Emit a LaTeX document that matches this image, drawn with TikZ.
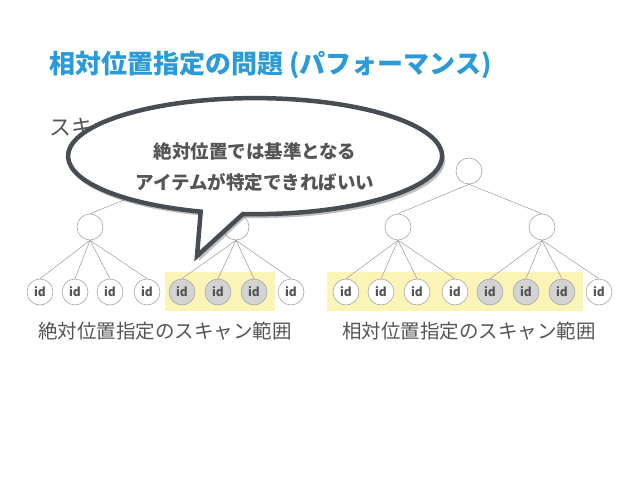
\documentclass[tikz,border=0pt]{standalone}
\usepackage{fontspec}
\setmainfont{Noto Sans CJK JP}
\newfontfamily\cjk{Noto Sans CJK JP}
\definecolor{titleblue}{HTML}{2A9BD8}
\definecolor{txtgray}{HTML}{555555}
\definecolor{hl}{HTML}{FAF5B6}
\definecolor{selgray}{HTML}{D3D3D3}
\definecolor{bubble}{HTML}{484D53}
\begin{document}
\begin{tikzpicture}[x=1pt,y=1pt,
  tn/.style={circle,draw=gray!70,line width=0.6pt,minimum size=26pt,inner sep=0pt,fill=white},
  leaf/.style={circle,draw=gray!70,line width=0.6pt,minimum size=26pt,inner sep=0pt,fill=white,font=\cjk\bfseries\fontsize{12}{12}\selectfont,text=txtgray},
  sel/.style={leaf,fill=selgray},
  edge/.style={draw=gray!70,line width=0.6pt},
  captxt/.style={font=\cjk\fontsize{19.5}{21}\selectfont,text=txtgray}]
\path[use as bounding box] (0,0) rectangle (638,-479);
\fill[white] (0,0) rectangle (638,-479);
\node[anchor=west,font=\cjk\bfseries\fontsize{26}{28}\selectfont,text=titleblue] (title) at (46,-65) {相対位置指定の問題 (パフォーマンス)};
\node[anchor=west,font=\cjk\fontsize{22}{24}\selectfont,text=txtgray] (sub) at (46,-127) {スキ};
% highlight boxes
\fill[hl] (165,-272) rectangle (275,-311);
\fill[hl] (327,-272) rectangle (583,-311);
% left tree
\node[tn] (lr) at (163,-171) {};
\node[tn] (lm1) at (90,-227) {};
\node[tn] (lm2) at (236,-227) {};
\foreach \i/\x/\s in {1/40/leaf,2/75/leaf,3/110/leaf,4/147/leaf,5/182/sel,6/218/sel,7/254/sel,8/291/leaf}
  \node[\s] (l\i) at (\x,-292) {id};
% right tree
\node[tn] (rr) at (469,-171) {};
\node[tn] (rm1) at (398,-227) {};
\node[tn] (rm2) at (542,-227) {};
\foreach \i/\x/\s in {1/346/leaf,2/381/leaf,3/417/leaf,4/455/leaf,5/490/sel,6/526/sel,7/562/sel,8/599/leaf}
  \node[\s] (r\i) at (\x,-292) {id};
\foreach \a/\b in {lr/lm1,lr/lm2,lm1/l1,lm1/l2,lm1/l3,lm1/l4,lm2/l5,lm2/l6,lm2/l7,lm2/l8,
  rr/rm1,rr/rm2,rm1/r1,rm1/r2,rm1/r3,rm1/r4,rm2/r5,rm2/r6,rm2/r7,rm2/r8}
  \draw[edge] (\a.south) -- (\b.north);
% captions
\node[captxt] (c1) at (165,-331) {絶対位置指定のスキャン範囲};
\node[captxt] (c2) at (469,-331) {相対位置指定のスキャン範囲};
% bubble shadow
\fill[black,opacity=0.25] (245,-218) arc[start angle=266.3,end angle=613.1,x radius=188pt,y radius=58pt] -- (199,-261) -- cycle;
\draw[fill=white,draw=bubble,line width=4.5pt,line join=miter] (243,-214) arc[start angle=266.3,end angle=613.1,x radius=187pt,y radius=58pt] coordinate (bl) -- (197,-256) coordinate (tip) -- cycle;
\node[align=center,font=\cjk\bfseries\fontsize{18.5}{31}\selectfont,text=txtgray] (bt) at (255,-167) {絶対位置では基準となる\\アイテムが特定できればいい};
\end{tikzpicture}
\end{document}
